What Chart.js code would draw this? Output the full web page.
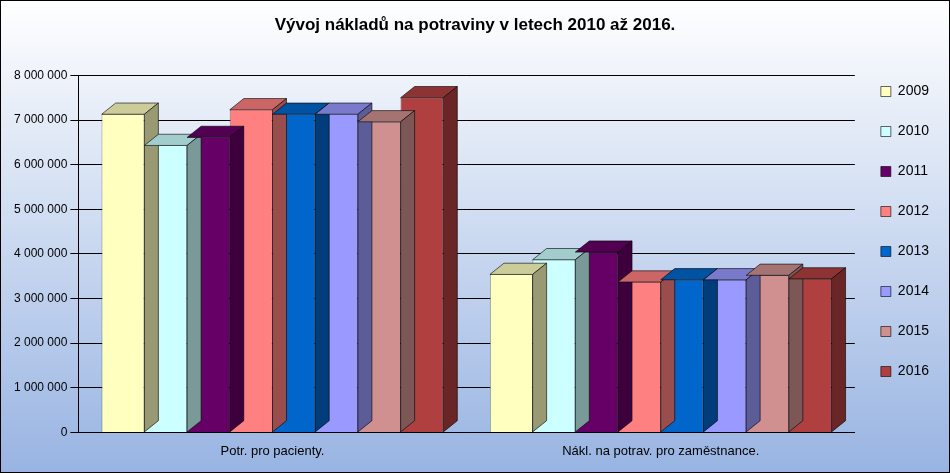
<!DOCTYPE html>
<html><head><meta charset="utf-8">
<script src="https://cdn.jsdelivr.net/npm/chart.js"></script>
<style>html,body{margin:0;padding:0;background:#fff}#w{width:948px;height:471px;border:1px solid #000;position:relative}</style>
</head><body><div id="w"><canvas id="c" width="948" height="471"></canvas></div>
<script>
const categories = ["Potr. pro pacienty.", "Nákl. na potrav. pro zaměstnance."];
const years = ["2009","2010","2011","2012","2013","2014","2015","2016"];
const v2009 = [7130000, 3540000];
const v2010 = [6430000, 3870000];
const v2011 = [6610000, 4040000];
const v2012 = [7230000, 3370000];
const v2013 = [7130000, 3420000];
const v2014 = [7130000, 3420000];
const v2015 = [6960000, 3520000];
const v2016 = [7500000, 3440000];
const series = [v2009,v2010,v2011,v2012,v2013,v2014,v2015,v2016];
const colors = ["#FFFFC0","#CCFFFF","#660066","#FF8080","#0066CC","#9999FF","#D09090","#B04040"];
const yTicks = [0,1000000,2000000,3000000,4000000,5000000,6000000,7000000,8000000];

function shade(hex, f){const n=parseInt(hex.slice(1),16);const r=n>>16,g=(n>>8)&255,b=n&255;return 'rgb('+Math.round(r*f)+','+Math.round(g*f)+','+Math.round(b*f)+')';}
const D = 14;
const bg = {id:'bg',beforeDraw(ch){const c=ch.ctx;const g=c.createLinearGradient(0,0,0,ch.height);g.addColorStop(0,'#FFFFFF');g.addColorStop(1,'#98B4E2');c.save();c.fillStyle=g;c.fillRect(0,0,ch.width,ch.height);c.restore();}};
const bars3d = {id:'b3d',afterDatasetsDraw(ch){const c=ch.ctx;c.save();c.strokeStyle='#000';c.lineWidth=0.6;
 ch.data.datasets.forEach((ds,i)=>{ch.getDatasetMeta(i).data.forEach(b=>{const l=b.x-b.width/2,r=b.x+b.width/2,t=b.y,bt=b.base;
  c.fillStyle=shade(colors[i],0.8);c.beginPath();c.moveTo(l,t);c.lineTo(l+D,t-D*0.8);c.lineTo(r+D,t-D*0.8);c.lineTo(r,t);c.closePath();c.fill();c.stroke();
  c.fillStyle=shade(colors[i],0.6);c.beginPath();c.moveTo(r,t);c.lineTo(r+D,t-D*0.8);c.lineTo(r+D,bt-D*0.8);c.lineTo(r,bt);c.closePath();c.fill();c.stroke();});});c.restore();}};
new Chart(document.getElementById('c'),{type:'bar',
 data:{labels:categories,datasets:years.map((y,i)=>({label:y,data:series[i],backgroundColor:colors[i],borderColor:'#000',borderWidth:0.6,categoryPercentage:0.88,barPercentage:1}))},
 options:{responsive:false,animation:false,devicePixelRatio:1,
  layout:{padding:{left:10,right:10,top:0,bottom:10}},
  plugins:{title:{display:true,text:'Vývoj nákladů na potraviny v letech 2010 až 2016.',font:{family:'Liberation Sans',size:17,weight:'bold'},color:'#000',padding:{top:14,bottom:40}},
   legend:{position:'right',labels:{font:{family:'Liberation Sans',size:14},color:'#000',boxWidth:10,boxHeight:10,padding:26},align:'center'},tooltip:{enabled:false}},
  scales:{x:{grid:{display:false},border:{color:'#000'},ticks:{color:'#000',font:{family:'Liberation Sans',size:13}}},
   y:{min:0,max:8000000,afterBuildTicks(ax){ax.ticks=yTicks.map(v=>({value:v}));},grid:{color:'#000'},border:{color:'#000'},
    ticks:{color:'#000',font:{family:'Liberation Sans',size:12},callback:v=>v.toLocaleString('en-US').replace(/,/g,' ')}}}},
 plugins:[bg,bars3d]});
</script></body></html>
